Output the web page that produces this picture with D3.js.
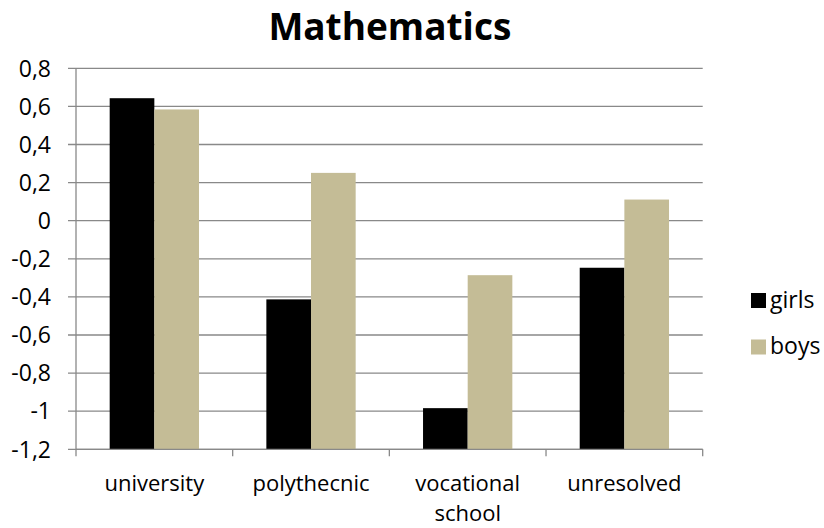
<!DOCTYPE html>
<html>
<head>
<meta charset="utf-8">
<script src="https://cdn.jsdelivr.net/npm/d3@7"></script>
<style>
  html, body { margin: 0; padding: 0; background: #fff; }
  svg text { font-family: "Open Sans", "Noto Sans", sans-serif; fill: #000; }
</style>
</head>
<body>
<svg id="chart" width="824" height="528"></svg>
<script>
const title = "Mathematics";
const categories = [["university"], ["polythecnic"], ["vocational", "school"], ["unresolved"]];
const categoryKeys = ["university", "polythecnic", "vocational school", "unresolved"];
const seriesNames = ["girls", "boys"];
const girls = [0.643, -0.413, -0.984, -0.247];
const boys = [0.584, 0.251, -0.286, 0.111];
const yTicks = [0.8, 0.6, 0.4, 0.2, 0, -0.2, -0.4, -0.6, -0.8, -1, -1.2];
const colors = ["#000000", "#C4BC96"];

(function () {
const svg = d3.select("#chart");
const pLeft = 76, pRight = 702.7, pTop = 68.3, pBottom = 449.3;
const gridColor = "#898989";
const fs = 23;

const y = d3.scaleLinear().domain([-1.2, 0.8]).range([pBottom, pTop]);
const x0 = d3.scaleBand().domain(categoryKeys).range([pLeft, pRight])
  .paddingInner(0.43).paddingOuter(0.215);
const x1 = d3.scaleBand().domain(seriesNames).range([0, x0.bandwidth()]);

// gridlines
svg.append("g").selectAll("line").data(yTicks).join("line")
  .attr("x1", pLeft - 8).attr("x2", pRight)
  .attr("y1", d => y(d)).attr("y2", d => y(d))
  .attr("stroke", gridColor).attr("stroke-width", 1.3);

// y tick labels
svg.append("g").selectAll("text").data(yTicks).join("text")
  .attr("x", 51).attr("y", d => y(d))
  .attr("dy", "0.36em")
  .attr("text-anchor", "end")
  .attr("font-size", fs)
  .text(d => String(d).replace(".", ","));

// bars (anchored at the axis minimum, as in the source chart)
const data = categoryKeys.map((c, i) => ({ cat: c, values: [girls[i], boys[i]] }));
const groups = svg.append("g").selectAll("g").data(data).join("g")
  .attr("transform", d => `translate(${x0(d.cat)},0)`);
groups.selectAll("rect").data(d => d.values.map((v, j) => ({ s: seriesNames[j], v, j })))
  .join("rect")
  .attr("x", d => x1(d.s))
  .attr("width", x1.bandwidth())
  .attr("y", d => y(d.v))
  .attr("height", d => y(-1.2) - y(d.v))
  .attr("fill", d => colors[d.j]);

// axes lines
svg.append("line").attr("x1", pLeft).attr("x2", pLeft).attr("y1", pTop).attr("y2", pBottom)
  .attr("stroke", gridColor).attr("stroke-width", 1.3);
svg.append("line").attr("x1", pLeft).attr("x2", pRight).attr("y1", pBottom).attr("y2", pBottom)
  .attr("stroke", gridColor).attr("stroke-width", 1.3);

// x ticks at category boundaries
const boundaries = d3.range(categoryKeys.length + 1).map(i => pLeft + i * x0.step());
svg.append("g").selectAll("line").data(boundaries).join("line")
  .attr("x1", d => d).attr("x2", d => d)
  .attr("y1", pBottom).attr("y2", pBottom + 7)
  .attr("stroke", gridColor).attr("stroke-width", 1.3);

// x labels
const xl = svg.append("g").selectAll("text").data(categories).join("text")
  .attr("x", (d, i) => x0(categoryKeys[i]) + x0.bandwidth() / 2)
  .attr("y", 491)
  .attr("text-anchor", "middle")
  .attr("font-size", 22);
xl.selectAll("tspan").data(d => d).join("tspan")
  .attr("x", function () { return d3.select(this.parentNode).attr("x"); })
  .attr("dy", (d, i) => i === 0 ? 0 : 30)
  .text(d => d);

// title
svg.append("text").attr("x", (pLeft + pRight) / 2 + 0.5).attr("y", 40)
  .attr("text-anchor", "middle").attr("font-size", 37).attr("font-weight", "bold")
  .text(title);

// legend
const legend = svg.append("g").selectAll("g").data(seriesNames).join("g")
  .attr("transform", (d, i) => `translate(751,${293 + i * 46.5})`);
legend.append("rect").attr("width", 15).attr("height", 15).attr("fill", (d, i) => colors[i]);
legend.append("text").attr("x", 19).attr("y", 14.5).attr("font-size", fs).text(d => d);
})();
</script>
</body>
</html>
